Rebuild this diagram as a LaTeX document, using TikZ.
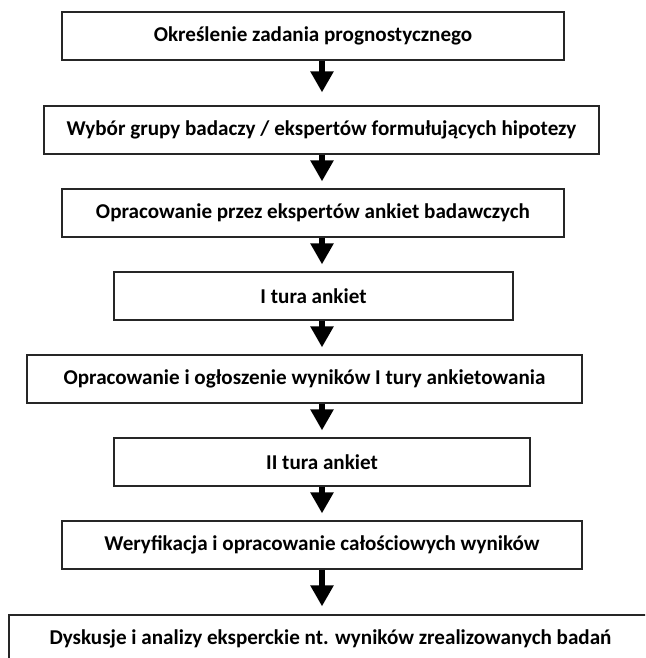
\documentclass[tikz,border=0pt]{standalone}
\usepackage{fontspec}
\setmainfont{Carlito}
\usetikzlibrary{arrows.meta,calc}
\begin{document}
\begin{tikzpicture}[x=1pt,y=-1pt,
 box/.style={draw=black!85,line width=1.2pt,font=\bfseries\fontsize{21.1}{24}\selectfont,inner sep=0pt,minimum height=48pt},
 arr/.style={line width=6pt,-{Triangle[length=21pt,width=22pt]},shorten >=7pt}]
\useasboundingbox (0,0) rectangle (645,658);
\clip (0,0) rectangle (645,658);
\coordinate (ax) at (322,0);
\node[box,minimum width=502pt] (b1) at (313,36) {Określenie zadania prognostycznego};
\node[box,minimum width=555pt] (b2) at (321.5,130) {Wybór grupy badaczy / ekspertów formułujących hipotezy};
\node[box,minimum width=502pt] (b3) at (313,213) {Opracowanie przez ekspertów ankiet badawczych};
\node[box,minimum width=399pt] (b4) at (313.5,296) {I tura ankiet};
\node[box,minimum width=555pt] (b5) at (304.5,379) {Opracowanie i ogłoszenie wyników I tury ankietowania};
\node[box,minimum width=416pt] (b6) at (322,462) {II tura ankiet};
\node[box,minimum width=520pt] (b7) at (322,545) {Weryfikacja i opracowanie całościowych wyników};
\node[box,minimum width=643pt] (b8) at (330.5,639) {Dyskusje i analizy eksperckie nt. wyników zrealizowanych badań};
\draw[arr,shorten >=13pt] (b1.south -| ax) -- (b2.north -| ax);
\draw[arr] (b2.south -| ax) -- (b3.north -| ax);
\draw[arr] (b3.south -| ax) -- (b4.north -| ax);
\draw[arr] (b4.south -| ax) -- (b5.north -| ax);
\draw[arr] (b5.south -| ax) -- (b6.north -| ax);
\draw[arr] (b6.south -| ax) -- (b7.north -| ax);
\draw[arr,shorten >=8pt] (b7.south -| ax) -- (b8.north -| ax);
\end{tikzpicture}
\end{document}
